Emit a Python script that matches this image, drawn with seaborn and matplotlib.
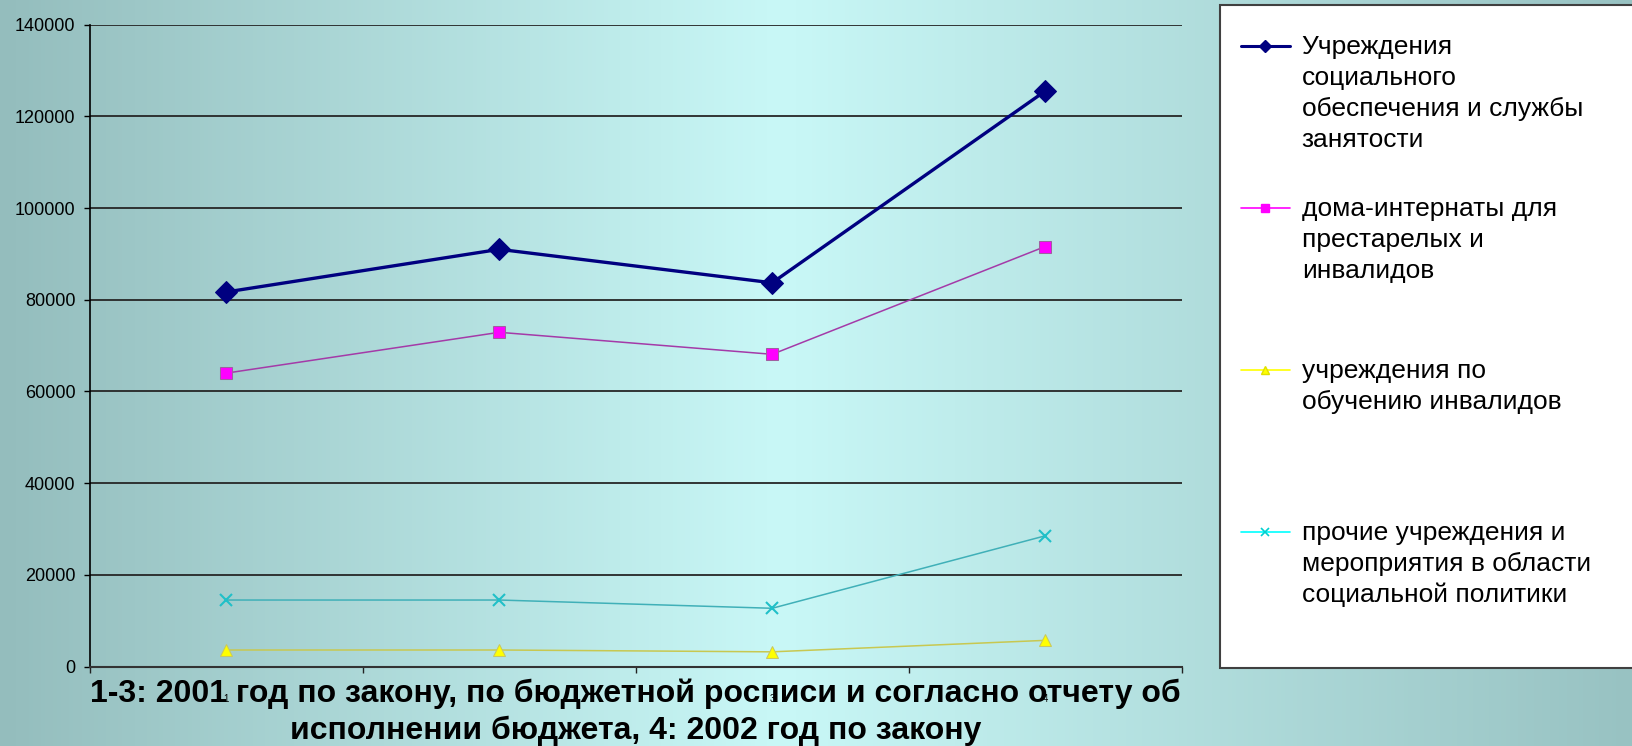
import matplotlib.pyplot as plt
import numpy as np
import seaborn as sns
from matplotlib.lines import Line2D
from matplotlib.patches import Rectangle

# Values
categories = ["1", "2", "3", "4"]
social_security = [81700, 91000, 83700, 125500]
care_homes = [64000, 72900, 68100, 91600]
disabled_training = [3600, 3600, 3200, 5700]
other_social = [14500, 14500, 12700, 28500]

series_labels = [
    "Учреждения\nсоциального\nобеспечения и службы\nзанятости",
    "дома-интернаты для\nпрестарелых и\nинвалидов",
    "учреждения по\nобучению инвалидов",
    "прочие учреждения и\nмероприятия в области\nсоциальной политики",
]
y_ticks = [0, 20000, 40000, 60000, 80000, 100000, 120000, 140000]
xlabel_text = ("1-3: 2001 год по закону, по бюджетной росписи и согласно отчету об\n"
               "исполнении бюджета, 4: 2002 год по закону")

sns.set_theme(style="white")
plt.rcParams["font.family"] = ["Liberation Sans", "DejaVu Sans"]

W, H = 1632, 746
fig = plt.figure(figsize=(W / 100, H / 100), dpi=100)

# horizontal teal -> light cyan -> teal background
bg = fig.add_axes([0, 0, 1, 1], zorder=-10)
xs = np.linspace(0, W, 400)
stop_x = [0, 780, W]
stop_rgb = np.array([[148, 189, 189], [201, 248, 247], [152, 194, 194]]) / 255
grad = np.stack([np.interp(xs, stop_x, stop_rgb[:, k]) for k in range(3)], axis=-1)
bg.imshow(grad[np.newaxis, :, :], aspect="auto", extent=[0, 1, 0, 1])
bg.axis("off")

ax = fig.add_axes([90 / W, 1 - 666.5 / H, (1181.5 - 90) / W, (666.5 - 24.7) / H])
ax.patch.set_alpha(0)

x_pos = np.arange(1, len(categories) + 1)
styles = [
    (social_security, dict(color="#000080", lw=2.4, marker="D", ms=11, mfc="#000080", mec="#000080")),
    (care_homes, dict(color="#a43aa8", lw=1.1, marker="s", ms=8, mfc="#ff00ff", mec="#a060a0")),
    (disabled_training, dict(color="#c8c850", lw=1.1, marker="^", ms=9, mfc="#ffff00", mec="#c8c860")),
    (other_social, dict(color="#40b0b8", lw=1.1, marker="x", ms=8, mfc="#00c8c8", mec="#20c0c8", mew=1.5)),
]
for vals, st in styles:
    sns.lineplot(x=x_pos, y=vals, ax=ax, sort=False, legend=False, **st)

ax.set_xlim(0.5, len(categories) + 0.5)
ax.set_ylim(0, 140000)
ax.set_yticks(y_ticks)
ax.set_yticklabels([str(v) for v in y_ticks], fontsize=13)
ax.yaxis.grid(True, color="#262626", lw=1.3)
ax.set_axisbelow(True)
ax.tick_params(axis="y", left=True, length=4.5, width=1, color="black", pad=6, labelcolor="black")

ax.set_xticks(x_pos)
ax.set_xticklabels(categories, fontsize=7, color="black")
ax.set_xticks(np.arange(0.5, len(categories) + 1), minor=True)
ax.tick_params(axis="x", which="major", length=0, pad=20)
ax.tick_params(axis="x", which="minor", bottom=True, length=4, width=1, color="#222222")

for side in ["top", "right"]:
    ax.spines[side].set_visible(False)
ax.spines["left"].set_color("black")
ax.spines["bottom"].set_color("#333333")
ax.spines["left"].set_linewidth(1.2)
ax.spines["bottom"].set_linewidth(1.5)

ax.set_xlabel(xlabel_text, fontsize=23, fontweight="bold", linespacing=1.3,
              va="center", color="black")
ax.xaxis.set_label_coords(0.5, -0.0715)

# legend panel
fig.patches.append(Rectangle((1220 / W, 1 - 668 / H), 1, (668 - 4.7) / H,
                             transform=fig.transFigure, fc="white", ec="#404040", lw=1.5, zorder=1))

handles = [
    Line2D([], [], color="#000080", lw=2.2, marker="D", ms=6.5, mfc="#000080", mec="#000080"),
    Line2D([], [], color="#ff00ff", lw=1.2, marker="s", ms=6, mfc="#ff00ff", mec="#ff00ff"),
    Line2D([], [], color="#ffff00", lw=1.2, marker="^", ms=6, mfc="#ffff00", mec="#e0e000"),
    Line2D([], [], color="#00ffff", lw=1.2, marker="x", ms=6, mec="#00d0d0", mew=1.2),
]
max_lines = max(lbl.count("\n") for lbl in series_labels) + 1
padded = [lbl + "\n" * (max_lines - 1 - lbl.count("\n")) for lbl in series_labels]
leg = fig.legend(handles, padded, loc="upper left", bbox_to_anchor=(1241 / W, 1 - 35 / H),
                 bbox_transform=fig.transFigure, frameon=False, fontsize=19,
                 borderpad=0, borderaxespad=0, handlelength=1.85, handleheight=1.1,
                 handletextpad=0.45, labelspacing=1.72)
for txt in leg.get_texts():
    txt.set_linespacing(1.36)
    txt.set_color("black")
for col in leg._legend_handle_box.get_children():
    for item in col.get_children():
        item.align = "top"

fig.savefig("out.png", dpi=100)
